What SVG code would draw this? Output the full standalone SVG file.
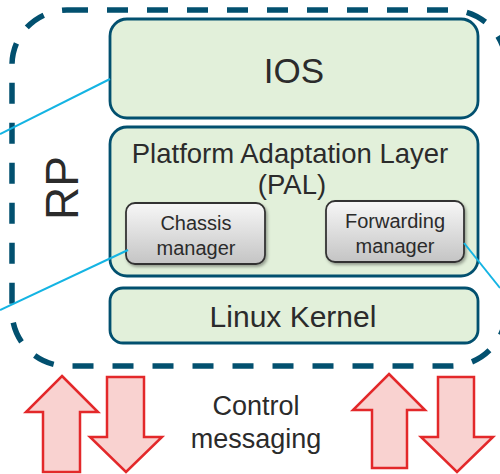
<svg xmlns="http://www.w3.org/2000/svg" width="500" height="474" viewBox="0 0 500 474">
<style>
.layer{fill:#E2F0DA;stroke:#02506F;stroke-width:2.8}
.mgr{fill:url(#gray);stroke:#333;stroke-width:1.8;filter:url(#sh)}
.t{font-family:"Liberation Sans",Arial,sans-serif;fill:#2b2b2b;text-anchor:middle}
.conn{stroke:#14B4E3;stroke-width:2;fill:none}
.arr{fill:#F9D2D0;stroke:#E3282A;stroke-width:2.5;stroke-linejoin:miter}
</style>
<defs>
<linearGradient id="gray" x1="0" y1="0" x2="0" y2="1">
<stop offset="0" stop-color="#F7F7F7"/>
<stop offset="1" stop-color="#C4C4C4"/>
</linearGradient>
<filter id="sh" x="-10%" y="-10%" width="130%" height="140%">
<feDropShadow dx="1.5" dy="2" stdDeviation="1.5" flood-color="#000" flood-opacity="0.35"/>
</filter>
</defs>
<g id="rp">
<rect x="12" y="10" width="494" height="356" rx="55" fill="none" stroke="#02506F" stroke-width="5.5" stroke-dasharray="21 19"/>
<text class="t" transform="translate(78,188) rotate(-90)" font-size="46">RP</text>
</g>
<g id="ios">
<rect class="layer" x="110" y="19" width="368" height="99" rx="17"/>
<text class="t" x="294" y="83" font-size="35">IOS</text>
</g>
<g id="pal">
<rect class="layer" x="110" y="127" width="368" height="149" rx="17"/>
<text class="t" x="290" y="163" font-size="27.5">Platform Adaptation Layer</text>
<text class="t" x="292" y="194" font-size="27.5">(PAL)</text>
</g>
<g id="chassis">
<rect class="mgr" x="126" y="203" width="139" height="61" rx="9"/>
<text class="t" x="196" y="230" font-size="20">Chassis</text>
<text class="t" x="196" y="255" font-size="20">manager</text>
</g>
<g id="forwarding">
<rect class="mgr" x="326" y="201" width="138" height="61" rx="9"/>
<text class="t" x="395" y="228" font-size="20">Forwarding</text>
<text class="t" x="395" y="253" font-size="20">manager</text>
</g>
<g id="linux">
<rect class="layer" x="110" y="288" width="368" height="55" rx="13"/>
<text class="t" x="293" y="327" font-size="30">Linux Kernel</text>
</g>
<g id="connectors">
<line class="conn" x1="110" y1="79" x2="0" y2="134"/>
<line class="conn" x1="128" y1="250" x2="0" y2="310"/>
<line class="conn" x1="464" y1="243" x2="500" y2="288"/>
</g>
<g id="control">
<polygon class="arr" points="62,376 98,412 80,412 80,472 43,472 43,412 26,412"/>
<polygon class="arr" points="107,377 144,377 144,437 162,437 126,472 90,437 107,437"/>
<polygon class="arr" points="389,374 425,410 407,410 407,468 372,468 372,410 353,410"/>
<polygon class="arr" points="438,377 474,377 474,437 493,437 457,472 421,437 438,437"/>
<text class="t" x="256" y="415" font-size="27">Control</text>
<text class="t" x="256" y="448" font-size="27">messaging</text>
</g>
</svg>
